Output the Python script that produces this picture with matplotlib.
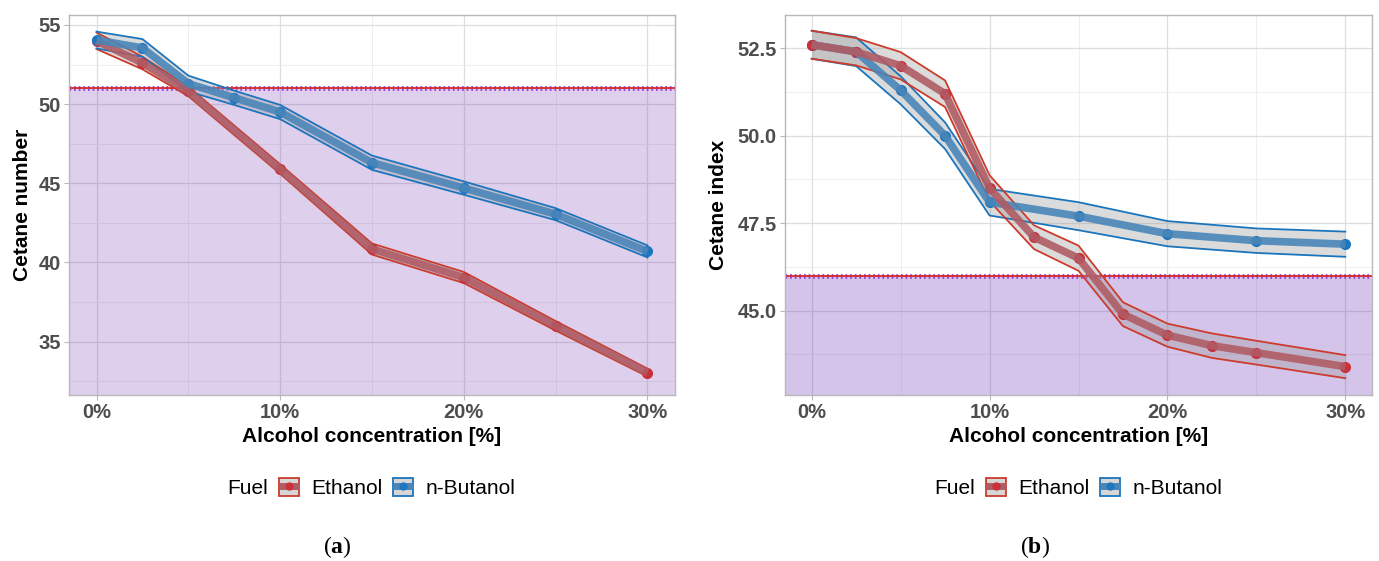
#!/usr/bin/env python3

import matplotlib
matplotlib.use('Agg')
from matplotlib import pyplot as plt
from matplotlib.lines import Line2D
from matplotlib.patches import Patch
from matplotlib.legend_handler import HandlerTuple
from matplotlib.ticker import MultipleLocator, FuncFormatter

plt.rcParams['font.family'] = ['Liberation Sans', 'DejaVu Sans']
plt.rcParams['mathtext.fontset'] = 'custom'
plt.rcParams['mathtext.rm'] = 'Liberation Serif'
plt.rcParams['mathtext.bf'] = 'Liberation Serif:bold'

# (a) cetane number
eth_x_a = [0, 2.5, 5, 10, 15, 20, 25, 30]
eth_y_a = [54.0, 52.6, 50.8, 45.9, 40.85, 39.05, 36.0, 33.05]
eth_ci_a = [0.52, 0.4, 0.3, 0.3, 0.35, 0.35, 0.3, 0.25]
but_x_a = [0, 2.5, 5, 7.5, 10, 15, 20, 25, 30]
but_y_a = [54.05, 53.55, 51.3, 50.4, 49.5, 46.3, 44.7, 43.05, 40.7]
but_ci_a = [0.53, 0.56, 0.5, 0.45, 0.45, 0.45, 0.42, 0.38, 0.38]
limit_a = 51

# (b) cetane index
eth_x_b = [0, 2.5, 5, 7.5, 10, 12.5, 15, 17.5, 20, 22.5, 25, 30]
eth_y_b = [52.6, 52.4, 52.0, 51.2, 48.5, 47.1, 46.5, 44.9, 44.3, 44.0, 43.8, 43.4]
eth_ci_b = [0.4, 0.39, 0.39, 0.38, 0.37, 0.34, 0.36, 0.34, 0.33, 0.35, 0.34, 0.33]
but_x_b = [0, 2.5, 5, 7.5, 10, 15, 20, 25, 30]
but_y_b = [52.6, 52.4, 51.3, 50.0, 48.1, 47.7, 47.2, 47.0, 46.9]
but_ci_b = [0.4, 0.41, 0.4, 0.38, 0.38, 0.4, 0.36, 0.35, 0.36]
limit_b = 46

fuels = ['Ethanol', 'n-Butanol']
edge_cols = {'Ethanol': '#cc3b2c', 'n-Butanol': '#1b75bc'}
line_cols = {'Ethanol': '#b05c64', 'n-Butanol': '#4a86b8'}
dot_cols = {'Ethanol': '#c9303a', 'n-Butanol': '#1f76c0'}


def draw_fuel(ax, fuel, x, y, ci):
    '''Ribbon, thick line and points for one fuel'''
    lo = [v - c for v, c in zip(y, ci)]
    hi = [v + c for v, c in zip(y, ci)]
    ax.fill_between(x, lo, hi, color='#9a9a9a', alpha=0.35, lw=0, zorder=3)
    ax.plot(x, lo, color=edge_cols[fuel], lw=1.3, zorder=4)
    ax.plot(x, hi, color=edge_cols[fuel], lw=1.3, zorder=4)
    ax.plot(x, y, 'o', color=dot_cols[fuel], ms=7, zorder=5)
    ax.plot(x, y, color=line_cols[fuel], lw=5.5, alpha=0.9, zorder=6,
            solid_capstyle='butt')


def style_axes(ax, ylim, major, ylabel, label_x):
    '''theme_light look'''
    ax.set_xlim(-1.5, 31.5)
    ax.set_ylim(*ylim)
    ax.xaxis.set_major_locator(MultipleLocator(10))
    ax.xaxis.set_minor_locator(MultipleLocator(5))
    ax.yaxis.set_major_locator(MultipleLocator(major))
    ax.yaxis.set_minor_locator(MultipleLocator(major / 2))
    ax.xaxis.set_major_formatter(FuncFormatter(lambda v, p: f'{v:.0f}%'))
    if major < 5:
        ax.yaxis.set_major_formatter(FuncFormatter(lambda v, p: f'{v:.1f}'))
    ax.grid(which='major', color='#dedede', lw=0.9, zorder=0)
    ax.grid(which='minor', color='#ececec', lw=0.6, zorder=0)
    ax.set_axisbelow(True)
    for s in ax.spines.values():
        s.set_color('#b8b8b8')
        s.set_linewidth(1.0)
    ax.tick_params(which='major', length=3.3, width=0.8, color='#b8b8b8',
                   labelsize=14.5, labelcolor='#4d4d4d', pad=2.5)
    ax.tick_params(which='minor', length=0)
    for t in ax.get_xticklabels() + ax.get_yticklabels():
        t.set_fontweight('bold')
    ax.set_xlabel('Alcohol concentration [%]', fontsize=15, fontweight='bold')
    ax.set_ylabel(ylabel, fontsize=15, fontweight='bold')
    ax.xaxis.set_label_coords(0.5, -0.083)
    ax.yaxis.set_label_coords(label_x, 0.5)


def draw_limit(ax, level, alpha):
    '''Shaded region under the standard limit'''
    lo = ax.get_ylim()[0]
    ax.axhspan(lo, level, color='#5a14a8', alpha=alpha, lw=0, zorder=1)
    ax.axhline(level, color='#a040e0', lw=3.5, ls=(0, (0.35, 0.6)), zorder=2)
    ax.axhline(level, color='#d02a2a', lw=1.3, zorder=2)


def add_legend(fig, x_fuel, y):
    '''Fuel legend under a panel'''
    handles = []
    for f in fuels:
        box = Patch(facecolor='#d6d6d6', edgecolor=edge_cols[f], lw=1.3)
        ln = Line2D([], [], color=line_cols[f], lw=5, marker='o', ms=6,
                    markerfacecolor=dot_cols[f], markeredgewidth=0,
                    solid_capstyle='butt')
        handles.append((box, ln))
    fig.text(x_fuel / 1379, y, 'Fuel', fontsize=15, va='center', ha='left')
    fig.legend(handles, fuels, loc='center left',
               bbox_to_anchor=((x_fuel + 52) / 1379, y), ncol=2, frameon=False,
               fontsize=15, handler_map={tuple: HandlerTuple(ndivide=1)},
               handlelength=0.96, handleheight=0.96, handletextpad=0.58,
               columnspacing=0.53, borderpad=0, borderaxespad=0)


def main():
    '''Driver Code'''
    fig = plt.figure(figsize=(13.79, 5.61), dpi=100)
    ax_a = fig.add_axes([69 / 1379, 1 - 395 / 561, 606 / 1379, 380 / 561])
    ax_b = fig.add_axes([785 / 1379, 1 - 395 / 561, 587 / 1379, 380 / 561])

    style_axes(ax_a, (31.63, 55.63), 5, 'Cetane number', -0.061)
    style_axes(ax_b, (42.59, 53.45), 2.5, 'Cetane index', -0.097)
    draw_limit(ax_a, limit_a, 0.2)
    draw_limit(ax_b, limit_b, 0.25)

    draw_fuel(ax_a, 'Ethanol', eth_x_a, eth_y_a, eth_ci_a)
    draw_fuel(ax_a, 'n-Butanol', but_x_a, but_y_a, but_ci_a)
    draw_fuel(ax_b, 'n-Butanol', but_x_b, but_y_b, but_ci_b)
    draw_fuel(ax_b, 'Ethanol', eth_x_b, eth_y_b, eth_ci_b)

    add_legend(fig, 227, 1 - 488 / 561)
    add_legend(fig, 934, 1 - 488 / 561)

    for x, letter in [(337, 'a'), (1035, 'b')]:
        fig.text(x / 1379, 1 - 547 / 561, f'$\\mathrm{{(}}\\mathbf{{{letter}}}\\mathrm{{)}}$',
                 fontsize=17, ha='center', va='center')

    fig.savefig('out.png', dpi=100)


if __name__ == '__main__':
    main()
